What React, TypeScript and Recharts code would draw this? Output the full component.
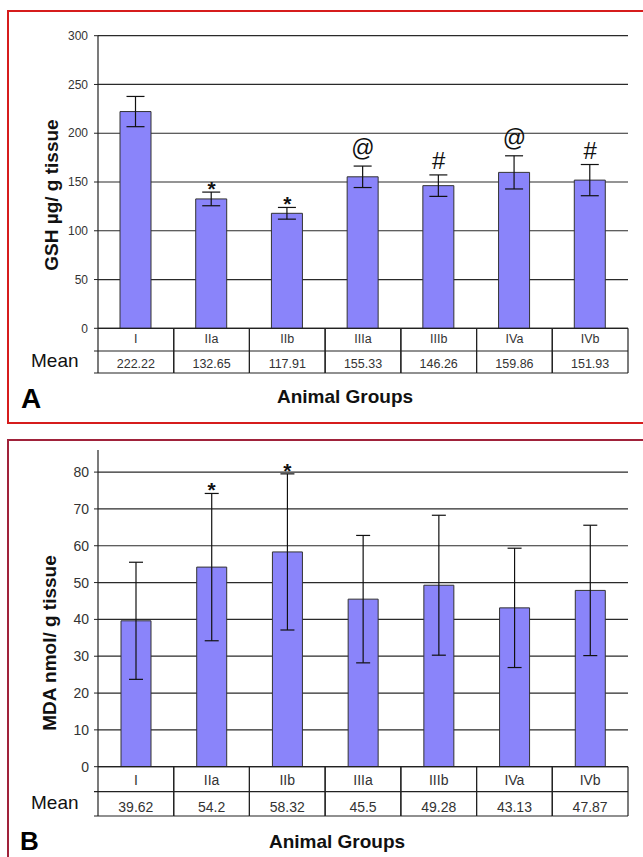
import React from "react";
import {
  ComposedChart,
  Bar,
  Line,
  XAxis,
  YAxis,
  CartesianGrid,
  ErrorBar,
} from "recharts";

const FONT = "'Liberation Sans', Arial, sans-serif";

const groups = ["I", "IIa", "IIb", "IIIa", "IIIb", "IVa", "IVb"];

// panel A - GSH
const gshMean = [222.22, 132.65, 117.91, 155.33, 146.26, 159.86, 151.93];
const gshSd = [15.5, 7, 6, 11, 11, 17, 16];
const gshMarks = ["", "*", "*", "@", "#", "@", "#"];
const gshTicks = [0, 50, 100, 150, 200, 250, 300];

// panel B - MDA
const mdaMean = [39.62, 54.2, 58.32, 45.5, 49.28, 43.13, 47.87];
const mdaSd = [15.9, 20, 21.2, 17.3, 19, 16.2, 17.7];
const mdaMarks = ["", "*", "*", "", "", "", ""];
const mdaTicks = [0, 10, 20, 30, 40, 50, 60, 70, 80];

const buildRows = (means: number[], sds: number[], marks: string[]) =>
  groups.map((g, i) => ({
    group: g,
    mean: means[i],
    sd: sds[i],
    top: means[i] + sds[i],
    mark: marks[i],
  }));

// symbol styling: baseline shift from the error bar top, size, weight
const markStyle: Record<string, { dy: number; size: number; weight: string }> = {
  "*": { dy: 4, size: 21, weight: "bold" },
  "#": { dy: -6, size: 24, weight: "normal" },
  "@": { dy: -10, size: 23, weight: "normal" },
};

const TableTick = (props: any) => {
  const { x, y, payload, index, means, r1, r2, fontSize, nameDy, meanDy } = props;
  const half = payload && payload.offset ? payload.offset : 37.8;
  const left = x - half;
  const right = x + half;
  const ext = index === 0 ? 4 : 0;
  const stroke = "#222";
  return (
    <g>
      <line x1={left} x2={right} y1={y} y2={y} stroke={stroke} strokeWidth={1.2} />
      <line x1={left - ext} x2={right} y1={y + r1} y2={y + r1} stroke={stroke} strokeWidth={1.2} />
      <line x1={left - ext} x2={right} y1={y + r1 + r2} y2={y + r1 + r2} stroke={stroke} strokeWidth={1.2} />
      <line x1={left} x2={left} y1={y} y2={y + r1 + r2} stroke={stroke} strokeWidth={1.2} />
      <line x1={right} x2={right} y1={y} y2={y + r1 + r2} stroke={stroke} strokeWidth={1.2} />
      <text x={x} y={y + nameDy} textAnchor="middle" fontSize={fontSize} fill="#333" fontFamily={FONT}>
        {payload.value}
      </text>
      <text x={x} y={y + r1 + meanDy} textAnchor="middle" fontSize={fontSize} fill="#333" fontFamily={FONT}>
        {String(means[index])}
      </text>
    </g>
  );
};

interface PanelProps {
  means: number[];
  sds: number[];
  marks: string[];
  ticks: number[];
  yMax: number;
  top: number;
  height: number;
  margin: { top: number; right: number; bottom: number; left: number };
  axisHeight: number;
  barSize: number;
  capWidth: number;
  tickFont: number;
  tickMargin: number;
  r1: number;
  r2: number;
  tableFont: number;
  nameDy: number;
  meanDy: number;
}

const Panel = (p: PanelProps) => {
  const rows = buildRows(p.means, p.sds, p.marks);

  const renderMark = (d: any) => {
    const m = d.payload ? d.payload.mark : "";
    if (!m) return <g key={`m-${d.index}`} />;
    const s = markStyle[m];
    return (
      <text
        key={`m-${d.index}`}
        x={d.cx}
        y={d.cy + s.dy}
        textAnchor="middle"
        fontSize={s.size}
        fontWeight={s.weight}
        fill="#111"
        fontFamily={FONT}
      >
        {m}
      </text>
    );
  };

  return (
    <div style={{ position: "absolute", left: 0, top: p.top }}>
      <ComposedChart width={643} height={p.height} data={rows} margin={p.margin}>
        <CartesianGrid vertical={false} stroke="#2a2a2a" strokeWidth={1.2} horizontalValues={p.ticks} />
        <XAxis
          dataKey="group"
          height={p.axisHeight}
          axisLine={false}
          tickLine={false}
          tickSize={0}
          tickMargin={0}
          interval={0}
          tick={(t: any) => (
            <TableTick
              {...t}
              means={p.means}
              r1={p.r1}
              r2={p.r2}
              fontSize={p.tableFont}
              nameDy={p.nameDy}
              meanDy={p.meanDy}
            />
          )}
        />
        <YAxis
          width={60}
          domain={[0, p.yMax]}
          ticks={p.ticks}
          interval={0}
          allowDataOverflow
          tickSize={4}
          tickMargin={p.tickMargin}
          axisLine={{ stroke: "#222", strokeWidth: 1.2 }}
          tickLine={{ stroke: "#222" }}
          tick={{ fontSize: p.tickFont, fill: "#333", fontFamily: FONT }}
        />
        <Bar
          dataKey="mean"
          fill="#8a84fa"
          stroke="#333"
          strokeWidth={1}
          barSize={p.barSize}
          isAnimationActive={false}
        >
          <ErrorBar dataKey="sd" direction="y" width={p.capWidth} stroke="#111" strokeWidth={1.2} />
        </Bar>
        <Line
          dataKey="top"
          stroke="none"
          dot={renderMark}
          activeDot={false}
          legendType="none"
          isAnimationActive={false}
        />
      </ComposedChart>
    </div>
  );
};

export default function App() {
  return (
    <div
      style={{
        position: "absolute",
        left: 0,
        top: 0,
        width: 643,
        height: 857,
        overflow: "hidden",
        background: "#fff",
        fontFamily: FONT,
      }}
    >
      <div
        style={{
          position: "absolute",
          left: 7,
          top: 10,
          width: 700,
          height: 410,
          border: "2px solid #d61c1c",
        }}
      />
      <div
        style={{
          position: "absolute",
          left: 7,
          top: 439,
          width: 700,
          height: 500,
          border: "2px solid #a0223a",
        }}
      />
      <Panel
        means={gshMean}
        sds={gshSd}
        marks={gshMarks}
        ticks={gshTicks}
        yMax={300}
        top={0}
        height={430}
        margin={{ top: 35.7, right: 15, bottom: 55.7, left: 38 }}
        axisHeight={46}
        barSize={31}
        capWidth={9}
        tickFont={12}
        tickMargin={6}
        r1={22.7}
        r2={22}
        tableFont={12.5}
        nameDy={15}
        meanDy={16.5}
      />
      <Panel
        means={mdaMean}
        sds={mdaSd}
        marks={mdaMarks}
        ticks={mdaTicks}
        yMax={86}
        top={430}
        height={427}
        margin={{ top: 20, right: 15, bottom: 40.3, left: 38 }}
        axisHeight={50}
        barSize={30}
        capWidth={7}
        tickFont={14}
        tickMargin={5}
        r1={25}
        r2={24.3}
        tableFont={14}
        nameDy={18.3}
        meanDy={20}
      />
      <svg
        width={643}
        height={857}
        style={{ position: "absolute", left: 0, top: 0, pointerEvents: "none" }}
      >
        <text x={21} y={408} fontSize={28} fontWeight="bold" fontFamily={FONT} fill="#000">
          A
        </text>
        <text x={345} y={403} fontSize={19} fontWeight="bold" fontFamily={FONT} fill="#111" textAnchor="middle">
          Animal Groups
        </text>
        <text x={31} y={367} fontSize={19} fontFamily={FONT} fill="#111">
          Mean
        </text>
        <text
          x={0}
          y={0}
          fontSize={19}
          fontWeight="bold"
          fontFamily={FONT}
          fill="#111"
          textAnchor="middle"
          transform="translate(58,195) rotate(-90)"
        >
          GSH µg/ g tissue
        </text>

        <text x={20} y={850} fontSize={26} fontWeight="bold" fontFamily={FONT} fill="#000">
          B
        </text>
        <text x={337} y={848} fontSize={19} fontWeight="bold" fontFamily={FONT} fill="#111" textAnchor="middle">
          Animal Groups
        </text>
        <text x={31} y={808.5} fontSize={19} fontFamily={FONT} fill="#111">
          Mean
        </text>
        <text
          x={0}
          y={0}
          fontSize={19}
          fontWeight="bold"
          fontFamily={FONT}
          fill="#111"
          textAnchor="middle"
          transform="translate(56,643) rotate(-90)"
        >
          MDA nmol/ g tissue
        </text>
      </svg>
    </div>
  );
}
